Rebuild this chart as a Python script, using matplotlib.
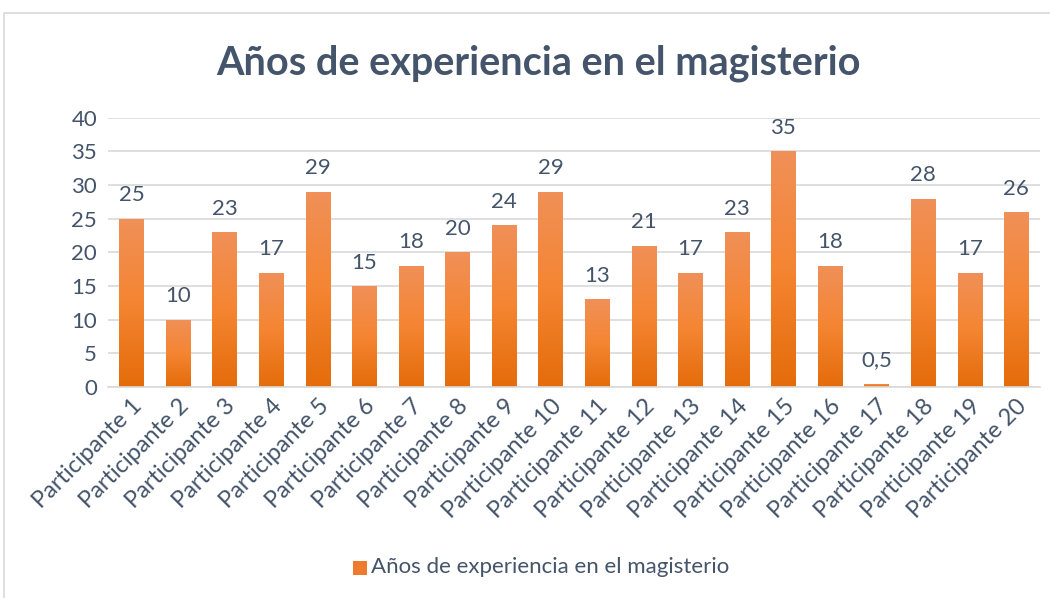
import numpy as np
import matplotlib.pyplot as plt
from matplotlib.colors import LinearSegmentedColormap
from matplotlib.patches import Rectangle

participantes = ['Participante %d' % i for i in range(1, 21)]
anios = [25, 10, 23, 17, 29, 15, 18, 20, 24, 29, 13, 21, 17, 23, 35, 18, 0.5, 28, 17, 26]
etiquetas = ['0,5' if v == 0.5 else str(v) for v in anios]
titulo = 'Años de experiencia en el magisterio'

texto = '#44546A'
plt.rcParams['font.family'] = ['Lato', 'DejaVu Sans']

fig = plt.figure(figsize=(10.5, 5.98), dpi=100)
fig.patches.append(Rectangle((4 / 1050, -0.1), 1.1, 1 - 13 / 598 + 0.1, transform=fig.transFigure,
                             fill=False, edgecolor='#D9D9D9', linewidth=1.2))
ax = fig.add_axes([0.103, 0.353, 0.887, 0.45])

cmap = LinearSegmentedColormap.from_list('naranja', ['#E46C0A', '#F58532', '#F09058'])
grad = np.linspace(0, 1, 256).reshape(-1, 1)
ancho = 0.52
bars = ax.bar(range(len(anios)), anios, width=ancho, color='none', zorder=2)
for b, v in zip(bars, anios):
    x0 = b.get_x()
    im = ax.imshow(grad, cmap=cmap, origin='lower', aspect='auto',
                   extent=(x0, x0 + ancho, 0, v), zorder=2)
    im.set_clip_path(b)

for i, (v, t) in enumerate(zip(anios, etiquetas)):
    ax.text(i, v + 2.0, t, ha='center', va='bottom', fontsize=16, color=texto)

ax.set_xlim(-0.5, len(anios) - 0.5)
ax.set_ylim(0, 40)
ax.set_yticks(range(0, 41, 5))
ax.yaxis.grid(True, color='#D9D9D9', linewidth=1.2, zorder=0)
ax.set_axisbelow(True)
for s in ['top', 'right', 'left']:
    ax.spines[s].set_visible(False)
ax.spines['bottom'].set_color('#D9D9D9')
ax.spines['bottom'].set_linewidth(1.2)
ax.tick_params(length=0, labelsize=16, colors=texto, pad=8)
ax.set_xticks(range(len(anios)))
ax.set_xticklabels(participantes, rotation=45, ha='right', rotation_mode='anchor', fontsize=17)
ax.tick_params(axis='x', pad=6)

fig.text(0.513, 0.895, titulo, ha='center', va='center', fontsize=28.5, fontweight='bold', color=texto)

fig.patches.append(Rectangle((353 / 1050, 1 - 575 / 598), 14 / 1050, 14 / 598, transform=fig.transFigure,
                             facecolor='#EE7A2E', edgecolor='none'))
fig.text(371 / 1050, 1 - 567 / 598, titulo, ha='left', va='center', fontsize=16, color=texto)

fig.savefig('out.png', dpi=100, facecolor='white')
